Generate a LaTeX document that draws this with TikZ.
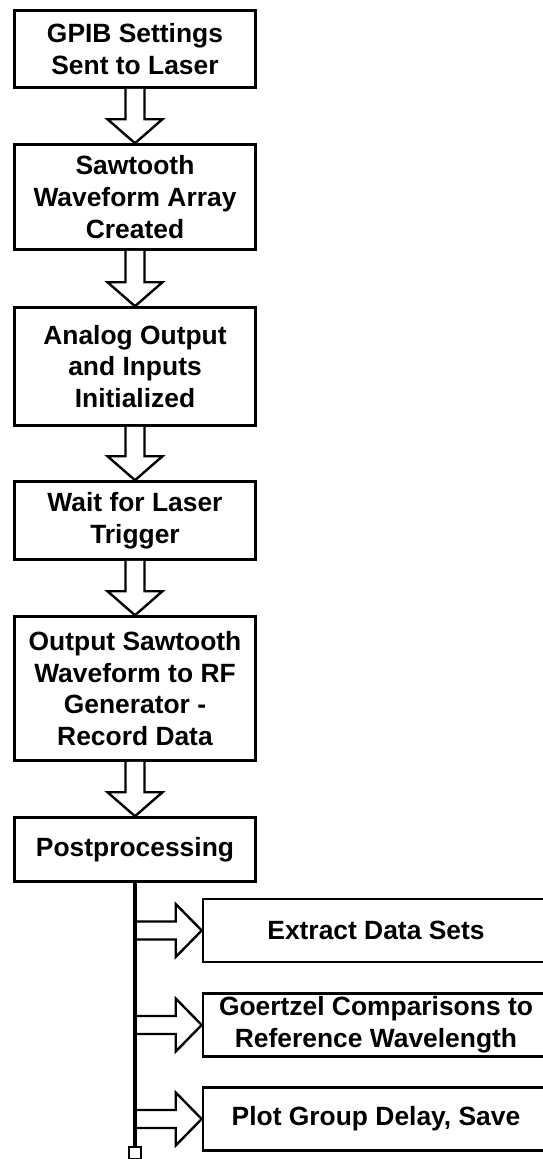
\documentclass[tikz,border=0pt]{standalone}
\usepackage{fontspec}
\setmainfont{Liberation Sans}
\usetikzlibrary{calc}
\tikzset{
  stepbox/.style={draw=black, line width=2.6pt, fill=white, inner sep=0pt, align=center,
    font=\bfseries\fontsize{26.4pt}{31.6pt}\selectfont, minimum width=241pt},
  sidebox/.style={stepbox, minimum width=346pt, minimum height=63pt},
  blk/.style={draw=black, line width=2.4pt, fill=white, line join=miter},
  trunk/.style={draw=black, line width=4.5pt},
  endsq/.style={draw=black, line width=2.6pt, fill=white, minimum width=12pt, minimum height=12pt, inner sep=0pt}
}
\newcommand\vblk[2]{%
  \draw[blk] ($(#1.south)+(-9.5pt,0)$) -- ($(#2.north)+(-9.5pt,24pt)$) -- ($(#2.north)+(-27.5pt,24pt)$) -- (#2.north) -- ($(#2.north)+(27.5pt,24pt)$) -- ($(#2.north)+(9.5pt,24pt)$) -- ($(#1.south)+(9.5pt,0)$);}
\newcommand\hblk[2]{%
  \draw[blk] ($(#1)+(0,9pt)$) -- ($(#2.west)+(-26pt,9pt)$) -- ($(#2.west)+(-26pt,26.5pt)$) -- (#2.west) -- ($(#2.west)+(-26pt,-26.5pt)$) -- ($(#2.west)+(-26pt,-9pt)$) -- ($(#1)+(0,-9pt)$);}
\begin{document}
\begin{tikzpicture}
\useasboundingbox[fill=white] (0,0) rectangle (542pt,-1159pt);
\node[stepbox, minimum height=77pt] (b1) at (135pt,-49pt) {GPIB Settings\\Sent to Laser};
\node[stepbox, minimum height=105pt] (b2) at (135pt,-197pt) {Sawtooth\\Waveform Array\\Created};
\node[stepbox, minimum height=118pt] (b3) at (135pt,-366.5pt) {Analog Output\\and Inputs\\Initialized};
\node[stepbox, minimum height=78pt] (b4) at (135pt,-520.5pt) {Wait for Laser\\Trigger};
\node[stepbox, minimum height=144pt] (b5) at (135pt,-688.5pt) {Output Sawtooth\\Waveform to RF\\Generator -\\Record Data};
\node[stepbox, minimum height=64pt] (b6) at (135pt,-849.5pt) {Postprocessing};
\node[sidebox] (e1) at (376pt,-930.5pt) {Extract Data Sets};
\node[sidebox] (e2) at (376pt,-1025pt) {Goertzel Comparisons to\\Reference Wavelength};
\node[sidebox] (e3) at (376pt,-1119pt) {Plot Group Delay, Save};
\node[endsq] (sq) at (135pt,-1153pt) {};
\vblk{b1}{b2}
\vblk{b2}{b3}
\vblk{b3}{b4}
\vblk{b4}{b5}
\vblk{b5}{b6}
\draw[trunk] (b6.south) -- (sq.north);
\coordinate (t1) at (b6.south |- e1.west);
\coordinate (t2) at (b6.south |- e2.west);
\coordinate (t3) at (b6.south |- e3.west);
\hblk{t1}{e1}
\hblk{t2}{e2}
\hblk{t3}{e3}
\draw[trunk] (b6.south) -- (sq.north);
\end{tikzpicture}
\end{document}
